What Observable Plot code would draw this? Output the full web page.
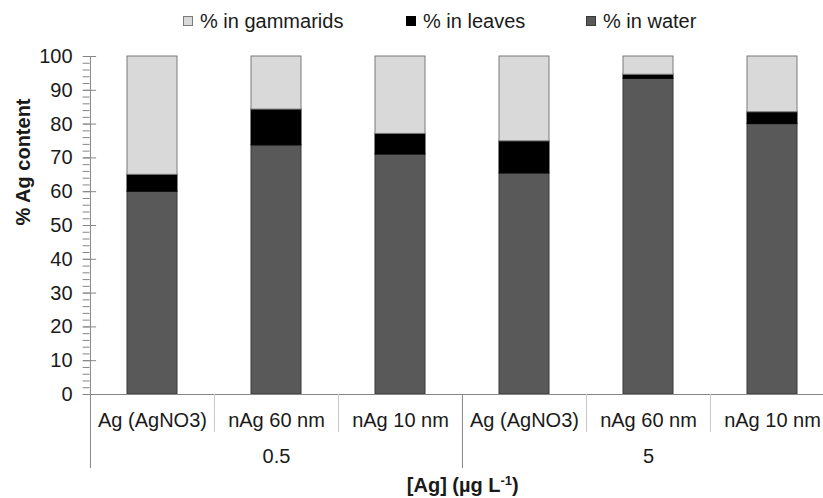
<!DOCTYPE html>
<html>
<head>
<meta charset="utf-8">
<script src="https://cdn.jsdelivr.net/npm/d3@7"></script>
<script src="https://cdn.jsdelivr.net/npm/@observablehq/plot@0.6"></script>
<style>
  html, body { margin: 0; padding: 0; background: #fff; overflow: hidden; width: 823px; height: 498px; }
  #legend { position: relative; height: 42px; font-family: "Liberation Sans", Arial, sans-serif; font-size: 20px; color: #1a1a1a; }
  .item { position: absolute; top: 9px; height: 24px; line-height: 24px; white-space: nowrap; display: flex; align-items: center; }
  .sw { width: 10px; height: 10px; box-sizing: border-box; border: 1px solid; margin-right: 7px; }
</style>
</head>
<body>
<div id="legend"></div>
<div id="chart"></div>
<script>
// ---- data ----
const categories = ["Ag (AgNO3)", "nAg 60 nm", "nAg 10 nm", "Ag (AgNO3)", "nAg 60 nm", "nAg 10 nm"];
const groups = ["0.5", "0.5", "0.5", "5", "5", "5"];
const seriesNames = ["% in gammarids", "% in leaves", "% in water"];
const water = [60, 73.7, 71, 65.4, 93.4, 80];
const leaves = [5, 10.6, 6.1, 9.5, 1.2, 3.5];
const gammarids = [35, 15.7, 22.9, 25.1, 5.4, 16.5];
const yTicks = [0, 10, 20, 30, 40, 50, 60, 70, 80, 90, 100];
const yMinorTicks = d3.range(0, 101, 2);
const yTitle = "% Ag content";
const xTitle = "[Ag] (µg L-1)";

// ---- styles ----
const colors = { "% in water": "#595959", "% in leaves": "#000000", "% in gammarids": "#d9d9d9" };
const borders = { "% in water": "#3a3a3a", "% in leaves": "#000000", "% in gammarids": "#7a7a7a" };
const axisColor = "#868686";
const textColor = "#1a1a1a";

// ---- legend (HTML, above the SVG) ----
const legendLeft = [183, 406, 586];
const legend = document.getElementById("legend");
seriesNames.forEach((s, i) => {
  const it = document.createElement("div");
  it.className = "item";
  it.style.left = legendLeft[i] + "px";
  const sw = document.createElement("span");
  sw.className = "sw";
  sw.style.background = colors[s];
  sw.style.borderColor = borders[s];
  it.appendChild(sw);
  it.appendChild(document.createTextNode(s));
  legend.appendChild(it);
});

// ---- chart ----
const keys = categories.map((c, i) => groups[i] + "|" + c);
const top2 = water.map((w, i) => w + leaves[i]);
const top3 = top2.map((v, i) => v + gammarids[i]);

const W = 823, H = 456;
const left = 89.6, rightEdge = 834.2;
const step = (rightEdge - left) / keys.length;

const chart = Plot.plot({
  width: W,
  height: H,
  marginLeft: left,
  marginRight: 0,
  marginTop: 14,
  marginBottom: 104,
  style: { fontFamily: "'Liberation Sans', Arial, sans-serif", fontSize: "20px", color: textColor, background: "#fff", overflow: "visible" },
  x: { domain: keys, range: [left, rightEdge], paddingInner: 0.6, paddingOuter: 0.3, label: null },
  y: { domain: [0, 100], label: null },
  marks: [
    // stacked bars
    Plot.barY(keys, { x: d => d, y1: 0, y2: (d, i) => water[i], fill: colors["% in water"], stroke: borders["% in water"], strokeWidth: 1 }),
    Plot.barY(keys, { x: d => d, y1: (d, i) => water[i], y2: (d, i) => top2[i], fill: colors["% in leaves"], stroke: borders["% in leaves"], strokeWidth: 1 }),
    Plot.barY(keys, { x: d => d, y1: (d, i) => top2[i], y2: (d, i) => top3[i], fill: colors["% in gammarids"], stroke: borders["% in gammarids"], strokeWidth: 1 }),
    // axes lines
    Plot.ruleY([0], { stroke: axisColor }),
    Plot.ruleX([keys[0]], { dx: -step / 2, stroke: axisColor }),
    // y ticks
    Plot.axisY(yMinorTicks, { tickSize: 7, tickFormat: () => "", stroke: axisColor, label: null }),
    Plot.axisY(yTicks, { tickSize: 13, dx: 6.5, tickFormat: () => "", stroke: axisColor, label: null }),
    Plot.axisY(yTicks, { tickSize: 0, tickPadding: 17.5, label: null, fill: textColor }),
    // x category labels
    Plot.axisX(keys, { tickSize: 0, tickPadding: 18, tickFormat: k => k.split("|")[1], label: null, fill: textColor }),
    // separators between categories (short)
    Plot.axisX([keys[1], keys[2], keys[4], keys[5]], { tickSize: 38, dx: -step / 2, tickFormat: () => "", stroke: "#c8c8c8", label: null }),
    // separators between groups (long)
    Plot.axisX([keys[0], keys[3]], { tickSize: 74, dx: -step / 2, tickFormat: () => "", stroke: axisColor, label: null }),
    // group labels
    Plot.axisX([keys[1], keys[4]], { tickSize: 0, tickPadding: 54, tickFormat: k => k.split("|")[0], label: null, fill: textColor }),
    // titles
    Plot.text([yTitle], { frameAnchor: "left", rotate: -90, dx: -67, fontWeight: "bold", fontSize: 20, fill: textColor }),
    Plot.text([xTitle], { frameAnchor: "bottom", lineAnchor: "top", dy: 83, dx: 6, fontWeight: "bold", fontSize: 20, fill: textColor })
  ]
});

// superscript for "-1" in the x title
for (const t of chart.querySelectorAll("text")) {
  if (t.textContent === xTitle) {
    const ns = "http://www.w3.org/2000/svg";
    t.textContent = "";
    const a = document.createElementNS(ns, "tspan");
    a.textContent = "[Ag] (µg L";
    const b = document.createElementNS(ns, "tspan");
    b.textContent = "-1";
    b.setAttribute("font-size", "13");
    b.setAttribute("dy", "-7");
    const c = document.createElementNS(ns, "tspan");
    c.textContent = ")";
    c.setAttribute("dy", "7");
    t.append(a, b, c);
  }
}

document.getElementById("chart").appendChild(chart);
</script>
</body>
</html>
